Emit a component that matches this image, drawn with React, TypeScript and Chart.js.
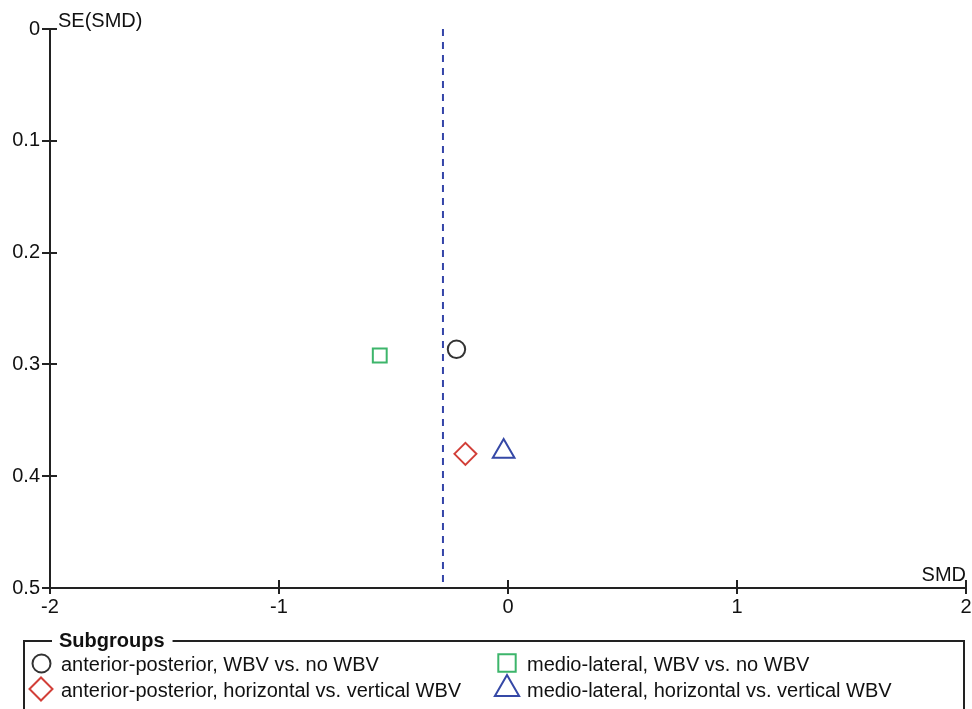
import React, { useEffect, useRef } from 'react';
import { Chart, registerables } from 'chart.js';
import { drawPoint } from 'chart.js/helpers';

Chart.register(...registerables);

const SERIES_LABELS = [
  'anterior-posterior, WBV vs. no WBV',
  'anterior-posterior, horizontal vs. vertical WBV',
  'medio-lateral, WBV vs. no WBV',
  'medio-lateral, horizontal vs. vertical WBV',
];
const SMD_VALUES = [-0.225, -0.186, -0.56, -0.019];
const SE_VALUES = [0.2865, 0.38, 0.292, 0.378];
const POOLED_SMD = -0.284;
const SE_RANGE = [0, 0.5];
const SMD_RANGE = [-2, 2];
const X_TITLE = 'SMD';
const Y_TITLE = 'SE(SMD)';
const LEGEND_TITLE = 'Subgroups';

const STYLES = [
  { pointStyle: 'circle', color: '#333333', radius: 8.7, legendRadius: 9 },
  { pointStyle: 'rectRot', color: '#d23f38', radius: 11, legendRadius: 11.5 },
  { pointStyle: 'rect', color: '#3db56b', radius: 9.8, legendRadius: 12.3 },
  { pointStyle: 'triangle', color: '#3548a6', radius: 12.5, legendRadius: 14 },
];
const LEGEND_POS = [
  { mx: 41.5, my: 663.5, tx: 61, ty: 671 },
  { mx: 41, my: 689, tx: 61, ty: 697 },
  { mx: 507, my: 663, tx: 527, ty: 671 },
  { mx: 507, my: 689, tx: 527, ty: 697 },
];

const FONT = '"Liberation Sans", Arial, sans-serif';
const FS = 20;
const AXIS = '#222222';

const decorPlugin = {
  id: 'decor',
  afterDraw(chart: any) {
    const ctx = chart.ctx;
    const { left, bottom } = chart.chartArea;
    const xs = chart.scales.x;
    const ys = chart.scales.y;
    ctx.save();
    // inward tick parts
    ctx.strokeStyle = AXIS;
    ctx.lineWidth = 2;
    ys.ticks.forEach((t: any) => {
      const p = Math.round(ys.getPixelForValue(t.value));
      ctx.beginPath();
      ctx.moveTo(left, p);
      ctx.lineTo(left + 7, p);
      ctx.stroke();
    });
    xs.ticks.forEach((t: any) => {
      const p = Math.round(xs.getPixelForValue(t.value));
      ctx.beginPath();
      ctx.moveTo(p, bottom);
      ctx.lineTo(p, bottom - 8);
      ctx.stroke();
    });
    // axis titles
    ctx.fillStyle = '#111';
    ctx.font = `${FS}px ${FONT}`;
    ctx.textBaseline = 'alphabetic';
    ctx.textAlign = 'left';
    ctx.fillText(Y_TITLE, left + 8, 27);
    ctx.textAlign = 'right';
    ctx.fillText(X_TITLE, chart.chartArea.right, bottom - 7);

    // legend box
    ctx.strokeStyle = AXIS;
    ctx.lineWidth = 2;
    const bx0 = 24, bx1 = 964, by0 = 641, by1 = 720;
    ctx.font = `bold ${FS}px ${FONT}`;
    ctx.textAlign = 'left';
    const tw = ctx.measureText(LEGEND_TITLE).width;
    ctx.beginPath();
    ctx.moveTo(bx0 + 28, by0);
    ctx.lineTo(bx0, by0);
    ctx.lineTo(bx0, by1);
    ctx.moveTo(bx1, by1);
    ctx.lineTo(bx1, by0);
    ctx.lineTo(59 + tw + 8, by0);
    ctx.stroke();
    ctx.fillStyle = '#111';
    ctx.fillText(LEGEND_TITLE, 59, 647);

    ctx.font = `${FS}px ${FONT}`;
    SERIES_LABELS.forEach((label, i) => {
      const st = STYLES[i];
      const lp = LEGEND_POS[i];
      ctx.strokeStyle = st.color;
      ctx.fillStyle = 'rgba(0,0,0,0)';
      ctx.lineWidth = 2;
      drawPoint(ctx, { pointStyle: st.pointStyle, radius: st.legendRadius, rotation: 0, borderWidth: 2 }, lp.mx, lp.my);
      ctx.fillStyle = '#111';
      ctx.fillText(label, lp.tx, lp.ty);
    });
    ctx.restore();
  },
};

export default function App() {
  const ref = useRef<HTMLCanvasElement | null>(null);
  useEffect(() => {
    if (!ref.current) return;
    const datasets: any[] = SERIES_LABELS.map((label, i) => ({
      type: 'scatter',
      label,
      data: [{ x: SMD_VALUES[i], y: SE_VALUES[i] }],
      pointStyle: STYLES[i].pointStyle,
      pointRadius: STYLES[i].radius,
      pointHoverRadius: STYLES[i].radius,
      borderColor: STYLES[i].color,
      backgroundColor: 'rgba(0,0,0,0)',
      pointBorderWidth: 2,
      borderWidth: 2,
      order: 1,
    }));
    datasets.unshift({
      type: 'line',
      label: 'pooled',
      data: [
        { x: POOLED_SMD, y: SE_RANGE[0] },
        { x: POOLED_SMD, y: SE_RANGE[1] },
      ],
      borderColor: '#3445a8',
      borderWidth: 2,
      borderDash: [7, 6],
      pointRadius: 0,
      fill: false,
      order: 2,
    });
    const chart = new Chart(ref.current, {
      type: 'scatter',
      data: { datasets },
      options: {
        responsive: false,
        animation: false,
        devicePixelRatio: 1,
        layout: { autoPadding: false, padding: { left: 0, right: 6, top: 29, bottom: 91 } },
        plugins: { legend: { display: false }, tooltip: { enabled: false } },
        scales: {
          x: {
            type: 'linear',
            min: SMD_RANGE[0],
            max: SMD_RANGE[1],
            afterFit: (s: any) => { s.height = 30; s.paddingLeft = 0; s.paddingRight = 0; },
            border: { display: true, color: AXIS, width: 2 },
            grid: { display: true, drawOnChartArea: false, drawTicks: true, tickLength: 6, color: AXIS, lineWidth: 2 },
            ticks: {
              stepSize: 1,
              padding: 1,
              color: '#111',
              font: { family: FONT, size: FS },
              maxRotation: 0,
              callback: (v: any) => String(v),
            },
          },
          y: {
            type: 'linear',
            reverse: true,
            min: SE_RANGE[0],
            max: SE_RANGE[1],
            afterFit: (s: any) => { s.width = 50; s.paddingTop = 0; s.paddingBottom = 0; },
            border: { display: true, color: AXIS, width: 2 },
            grid: { display: true, drawOnChartArea: false, drawTicks: true, tickLength: 8, color: AXIS, lineWidth: 2 },
            ticks: {
              stepSize: 0.1,
              padding: 2,
              color: '#111',
              font: { family: FONT, size: FS },
              callback: (v: any) => String(Number(Number(v).toFixed(1))),
            },
          },
        },
      },
      plugins: [decorPlugin],
    } as any);
    return () => chart.destroy();
  }, []);
  return (
    <div style={{ position: 'fixed', left: 0, top: 0, width: 972, height: 709, background: '#fff' }}>
      <canvas ref={ref} width={972} height={709} style={{ width: 972, height: 709, display: 'block' }} />
    </div>
  );
}
